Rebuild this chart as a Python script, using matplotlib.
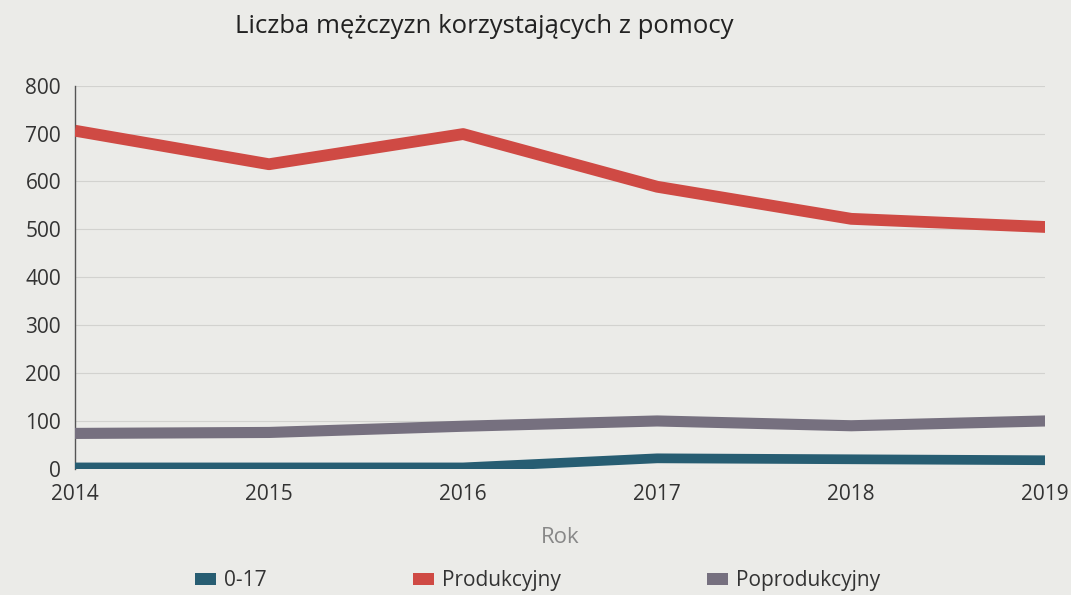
import matplotlib
matplotlib.use("Agg")
import matplotlib.pyplot as plt
from matplotlib.patches import Patch

plt.rcParams['font.family'] = ['Open Sans', 'DejaVu Sans']

years = [2014, 2015, 2016, 2017, 2018, 2019]
s_0_17 = [3, 3, 3, 22, 20, 18]
s_prod = [706, 636, 699, 589, 522, 505]
s_poprod = [74, 76, 89, 100, 90, 100]
series_names = ['0-17', 'Produkcyjny', 'Poprodukcyjny']
colors = ['#275d72', '#cf4a44', '#76707f']
yticks = [0, 100, 200, 300, 400, 500, 600, 700, 800]

bg = '#ebebe8'
fig = plt.figure(figsize=(10.71, 5.95), dpi=100, facecolor=bg)
ax = fig.add_axes([0.07, 0.212, 0.906, 0.644], facecolor=bg)

for vals, c, lw in zip([s_0_17, s_prod, s_poprod], colors, [7, 8.5, 8]):
    ax.plot(years, vals, color=c, linewidth=lw, solid_capstyle='butt',
            solid_joinstyle='round', zorder=3)

ax.set_xlim(2014, 2019)
ax.set_ylim(0, 800)
ax.set_yticks(yticks)
ax.set_xticks(years)
ax.grid(axis='y', color='#d2d2cf', linewidth=0.8)
ax.grid(axis='x', visible=False)
for s in ['top', 'right', 'bottom']:
    ax.spines[s].set_visible(False)
ax.spines['left'].set_color('#555555')
ax.spines['left'].set_linewidth(1.0)
ax.tick_params(axis='both', length=0, labelsize=15, colors='#333333')
ax.tick_params(axis='y', pad=10)
ax.tick_params(axis='x', pad=11)

ax.set_xlabel('Rok', fontsize=16, color='#888888', labelpad=16)
fig.text(0.219, 0.955, 'Liczba mężczyzn korzystających z pomocy', fontsize=18.5,
         color='#222222', ha='left', va='center')

handles = [Patch(facecolor=c, label=n) for c, n in zip(colors, series_names)]
leg = fig.legend(handles=handles, loc='center', bbox_to_anchor=(0.502, 0.024),
                 ncol=3, frameon=False, fontsize=15, handlelength=1.0,
                 handleheight=0.5, columnspacing=7.0, handletextpad=0.4)
for t in leg.get_texts():
    t.set_color('#333333')

fig.savefig('out.png', dpi=100, facecolor=bg)
